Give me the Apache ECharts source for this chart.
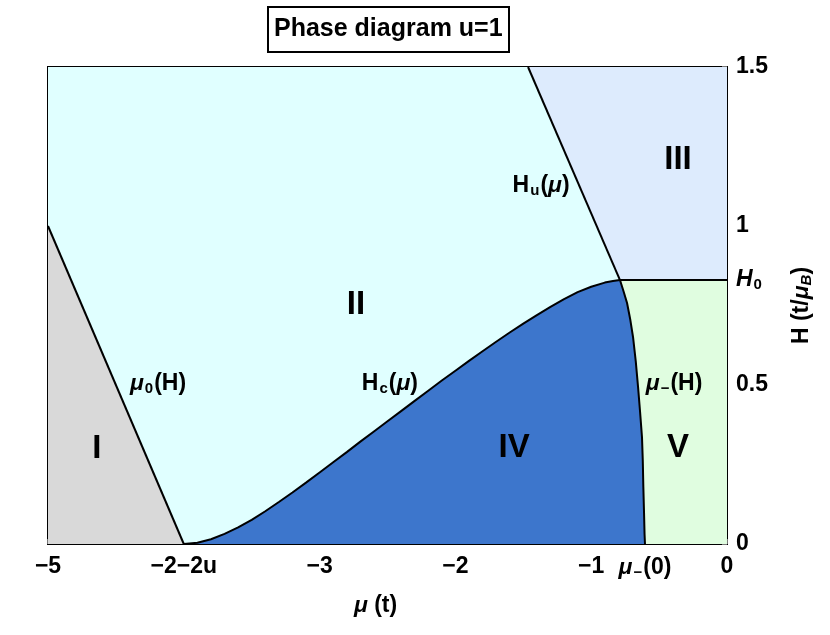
<!DOCTYPE html>
<html>
<head>
<meta charset="utf-8">
<script src="https://cdn.jsdelivr.net/npm/echarts@6/dist/echarts.min.js"></script>
<style>
html,body{margin:0;padding:0;background:#fff;}
#c{width:830px;height:635px;}
</style>
</head>
<body>
<div id="c"></div>
<script>
// ---------- data ----------
const H0 = 0.83;
const muMinus0 = -0.604;
const muCross = -0.788;          // where Hc, Hu and mu-(H) meet at H0
const muHuTop = -1.465;          // Hu(mu) at H = 1.5

// mu0(H) boundary: straight line
const mu0Line = [[-5, 1.0], [-4, 0]];
// Hu(mu) boundary
const huLine = [[muHuTop, 1.5], [muCross, H0]];
// Hc(mu) boundary (from -2-2u up to the triple point)
const hcCurve = [
  [-4.0, 0.0], [-3.9, 0.004], [-3.8, 0.015], [-3.7, 0.032], [-3.6, 0.052],
  [-3.5, 0.076], [-3.4, 0.103], [-3.3, 0.132], [-3.2, 0.162], [-3.1, 0.193],
  [-3.0, 0.225], [-2.9, 0.257], [-2.8, 0.289], [-2.7, 0.322], [-2.6, 0.354],
  [-2.5, 0.386], [-2.4, 0.418], [-2.3, 0.450], [-2.2, 0.482], [-2.1, 0.514],
  [-2.0, 0.545], [-1.9, 0.576], [-1.8, 0.606], [-1.7, 0.636], [-1.6, 0.665],
  [-1.5, 0.693], [-1.4, 0.720], [-1.3, 0.746], [-1.2, 0.770], [-1.1, 0.792],
  [-1.0, 0.809], [-0.9, 0.822], [-0.84, 0.827], [muCross, H0]
];
// mu_-(H) boundary (from triple point down to mu_-(0))
const muMinusCurve = [
  [muCross, H0], [-0.762, 0.795], [-0.736, 0.758], [-0.712, 0.705], [-0.692, 0.651],
  [-0.672, 0.575], [-0.655, 0.494], [-0.640, 0.415], [-0.626, 0.336],
  [-0.620, 0.260], [-0.616, 0.179], [-0.611, 0.100], [-0.607, 0.030], [muMinus0, 0]
];
// H0 line
const h0Line = [[muCross, H0], [0, H0]];

const xTickValues = [-5, -4, -3, -2, -1, muMinus0, 0];
const xTickLabels = ['−5', '−2−2u', '−3', '−2', '−1', '{mu|μ}{sub|−}(0)', '0'];
const yTickValues = [0, 0.5, H0, 1, 1.5];
const yTickLabels = ['0', '0.5', '{it|H}{sub|0}', '1', '1.5'];
const yTickMarks = [0, 0.5, 1, 1.5];

const regionNames = ['I', 'II', 'III', 'IV', 'V'];
const regionColors = ['#d9d9d9', '#e0ffff', '#ddebfd', '#3d76cc', '#e0fde0'];
const regionLabelPos = [[-4.64, 0.30], [-2.732, 0.752], [-0.361, 1.208], [-1.568, 0.302], [-0.361, 0.302]];

const curveLabelText = ['{mu|μ}{sub|0}(H)', 'H{sub|c}({mu|μ})', 'H{sub|u}({mu|μ})', '{mu|μ}{sub|−}(H)'];
const curveLabelPos = [[-4.19, 0.503], [-2.482, 0.505], [-1.369, 1.126], [-0.39, 0.503]];

// ---------- region polygons built from boundaries ----------
const regionPolys = [
  [[-5, 0]].concat(mu0Line),
  [[-5, 1.0], [-5, 1.5]].concat(huLine, hcCurve.slice().reverse()),
  [[muHuTop, 1.5], [0, 1.5], [0, H0], [muCross, H0]],
  hcCurve.concat(muMinusCurve.slice(1)),
  muMinusCurve.concat([[0, 0], [0, H0]])
];

const FONT = '"Liberation Sans", Arial, sans-serif';
const FS = 23;
const richBase = {
  mu: {fontStyle: 'italic', fontWeight: 'bold', fontSize: FS, fontFamily: FONT, color: '#000'},
  it: {fontStyle: 'italic', fontWeight: 'bold', fontSize: FS, fontFamily: FONT, color: '#000'},
  sub: {fontWeight: 'bold', fontSize: 15, fontFamily: FONT, color: '#000', padding: [10, 1, 0, 1]},
  subit: {fontStyle: 'italic', fontWeight: 'bold', fontSize: 15, fontFamily: FONT, color: '#000', padding: [10, 0, 0, 0]}
};

function lineSeries(d) {
  return {
    type: 'line', data: d, showSymbol: false, silent: true, z: 5,
    lineStyle: {color: '#000', width: 2}, animation: false
  };
}

const chart = echarts.init(document.getElementById('c'), null, {renderer: 'canvas'});
chart.setOption({
  animation: false,
  title: {
    text: 'Phase diagram u=1',
    left: 268, top: 7,
    padding: [10, 7, 10, 6],
    borderColor: '#000', borderWidth: 2, backgroundColor: '#fff',
    textStyle: {fontFamily: FONT, fontWeight: 'bold', fontSize: 25, color: '#000'}
  },
  grid: {left: 48, right: 103, top: 67, bottom: 91, show: true, borderColor: '#000', borderWidth: 2, backgroundColor: 'transparent'},
  xAxis: {
    type: 'value', min: -5, max: 0,
    name: '{mu|μ} (t)', nameLocation: 'middle', nameGap: 50,
    nameTextStyle: {fontFamily: FONT, fontWeight: 'bold', fontSize: FS, color: '#000', rich: richBase, padding: [0, 24, 0, 0]},
    axisLine: {show: true, onZero: false, lineStyle: {color: '#000', width: 2}},
    axisTick: {show: true, inside: true, length: 5, customValues: xTickValues, lineStyle: {color: '#777', width: 2}},
    axisLabel: {
      show: true, customValues: xTickValues, margin: 11,
      fontFamily: FONT, fontWeight: 'bold', fontSize: FS, color: '#000', rich: richBase,
      formatter: function (v) {
        const i = xTickValues.findIndex(t => Math.abs(t - v) < 1e-6);
        return i >= 0 ? xTickLabels[i] : '';
      }
    },
    splitLine: {show: false}
  },
  yAxis: {
    type: 'value', min: 0, max: 1.5, position: 'right',
    name: 'H (t/{mu|μ}{subit|B})', nameLocation: 'middle', nameGap: 62, nameRotate: 90,
    nameTextStyle: {fontFamily: FONT, fontWeight: 'bold', fontSize: FS, color: '#000', rich: richBase, padding: [0, 0, 0, 0]},
    axisLine: {show: true, lineStyle: {color: '#000', width: 2}},
    axisTick: {show: true, inside: true, length: 5, customValues: yTickMarks, lineStyle: {color: '#777', width: 2}},
    axisLabel: {
      show: true, customValues: yTickValues, margin: 9,
      fontFamily: FONT, fontWeight: 'bold', fontSize: FS, color: '#000', rich: richBase,
      formatter: function (v) {
        const i = yTickValues.findIndex(t => Math.abs(t - v) < 1e-6);
        return i >= 0 ? yTickLabels[i] : '';
      }
    },
    splitLine: {show: false}
  },
  series: [
    {
      type: 'custom', z: 1, silent: true,
      data: regionNames.map((n, i) => i),
      renderItem: function (params, api) {
        const i = params.dataIndex;
        const pts = regionPolys[i].map(p => api.coord(p));
        return {type: 'polygon', shape: {points: pts}, style: {fill: regionColors[i], stroke: null}};
      },
      clip: true
    },
    lineSeries(mu0Line),
    lineSeries(huLine),
    lineSeries(hcCurve),
    lineSeries(muMinusCurve),
    lineSeries(h0Line),
    {
      type: 'scatter', symbolSize: 0, z: 10, silent: true, itemStyle: {opacity: 1},
      data: regionLabelPos.map((p, i) => ({value: p, name: regionNames[i]})),
      label: {show: true, position: 'inside', formatter: '{b}', opacity: 1,
        fontFamily: FONT, fontWeight: 'bold', fontSize: 33, color: '#000'}
    },
    {
      type: 'scatter', symbolSize: 0, z: 10, silent: true, itemStyle: {opacity: 1},
      data: curveLabelPos.map((p, i) => ({value: p, name: curveLabelText[i]})),
      label: {show: true, position: 'inside', formatter: '{b}', opacity: 1,
        fontFamily: FONT, fontWeight: 'bold', fontSize: FS, color: '#000', rich: richBase}
    }
  ]
});
</script>
</body>
</html>
